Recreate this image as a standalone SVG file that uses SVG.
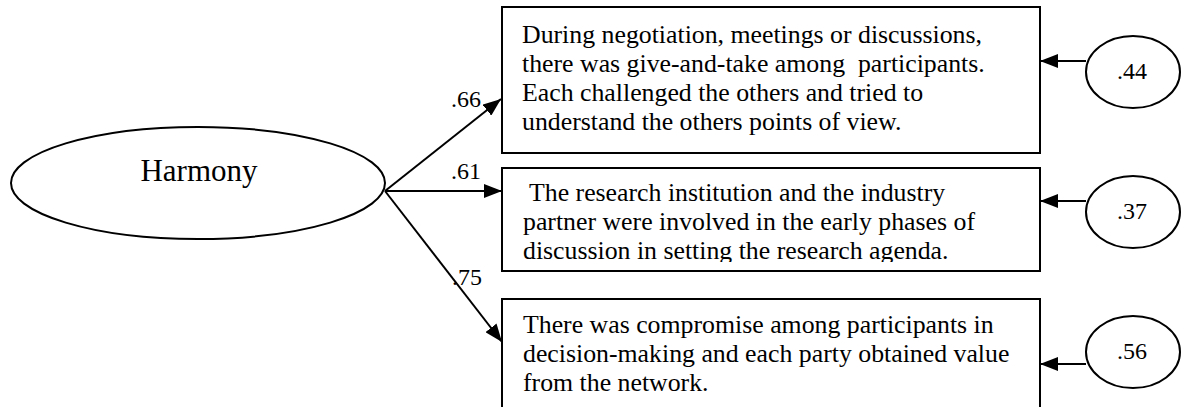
<svg xmlns="http://www.w3.org/2000/svg" width="1181" height="407" viewBox="0 0 1181 407">
  <style>
    .shape { fill: #fff; stroke: #000; stroke-width: 2; }
    .edge { fill: none; stroke: #000; stroke-width: 2; }
    text { font-family: "Liberation Serif", "Times New Roman", serif; fill: #000; white-space: pre; }
    .body { font-size: 25.8px; }
    .lbl { font-size: 24px; }
    .big { font-size: 31px; }
  </style>
  <defs>
    <marker id="arrow" viewBox="0 0 18 14" refX="18" refY="7" markerWidth="18" markerHeight="14" markerUnits="userSpaceOnUse" orient="auto">
      <path d="M0,0 L18,7 L0,14 Z" fill="#000"/>
    </marker>
    <clipPath id="clip-item2">
      <rect x="502" y="168" width="538" height="94"/>
    </clipPath>
  </defs>

  <rect width="1181" height="407" fill="#fff"/>

  <!-- connectors -->
  <g id="connectors">
    <line class="edge" x1="385" y1="191" x2="501" y2="99" marker-end="url(#arrow)"/>
    <line class="edge" x1="385" y1="191" x2="502" y2="191" marker-end="url(#arrow)"/>
    <line class="edge" x1="385" y1="191" x2="502" y2="342" marker-end="url(#arrow)"/>
    <line class="edge" x1="1086" y1="61" x2="1040" y2="61" marker-end="url(#arrow)"/>
    <line class="edge" x1="1086" y1="201" x2="1040" y2="201" marker-end="url(#arrow)"/>
    <line class="edge" x1="1086" y1="364" x2="1040" y2="364" marker-end="url(#arrow)"/>
    <text class="lbl" x="451" y="107">.66</text>
    <text class="lbl" x="451" y="179">.61</text>
    <text class="lbl" x="452" y="285">.75</text>
  </g>

  <!-- latent factor -->
  <g id="harmony">
    <ellipse class="shape" cx="198" cy="183" rx="187" ry="56"/>
    <text class="big" x="199" y="181" text-anchor="middle">Harmony</text>
  </g>

  <!-- observed items -->
  <g id="item1">
    <rect class="shape" x="502" y="7" width="538" height="146"/>
    <text class="body">
      <tspan x="522" y="43">During negotiation, meetings or discussions,</tspan>
      <tspan x="522" y="72">there was give-and-take among  participants.</tspan>
      <tspan x="522" y="101">Each challenged the others and tried to</tspan>
      <tspan x="522" y="130">understand the others points of view.</tspan>
    </text>
  </g>

  <g id="item2">
    <rect class="shape" x="502" y="168" width="538" height="103"/>
    <text class="body" clip-path="url(#clip-item2)">
      <tspan x="523" y="201"> The research institution and the industry</tspan>
      <tspan x="523" y="230">partner were involved in the early phases of</tspan>
      <tspan x="523" y="259">discussion in setting the research agenda.</tspan>
    </text>
  </g>

  <g id="item3">
    <rect class="shape" x="502" y="299" width="538" height="120"/>
    <text class="body">
      <tspan x="523" y="333">There was compromise among participants in</tspan>
      <tspan x="523" y="362">decision-making and each party obtained value</tspan>
      <tspan x="523" y="391">from the network.</tspan>
    </text>
  </g>

  <!-- error terms -->
  <g id="error1">
    <ellipse class="shape" cx="1133" cy="72" rx="47" ry="36"/>
    <text class="lbl" x="1132" y="79" text-anchor="middle">.44</text>
  </g>
  <g id="error2">
    <ellipse class="shape" cx="1133" cy="212" rx="47" ry="36"/>
    <text class="lbl" x="1132" y="219" text-anchor="middle">.37</text>
  </g>
  <g id="error3">
    <ellipse class="shape" cx="1133" cy="352" rx="47" ry="36"/>
    <text class="lbl" x="1132" y="359" text-anchor="middle">.56</text>
  </g>
</svg>
